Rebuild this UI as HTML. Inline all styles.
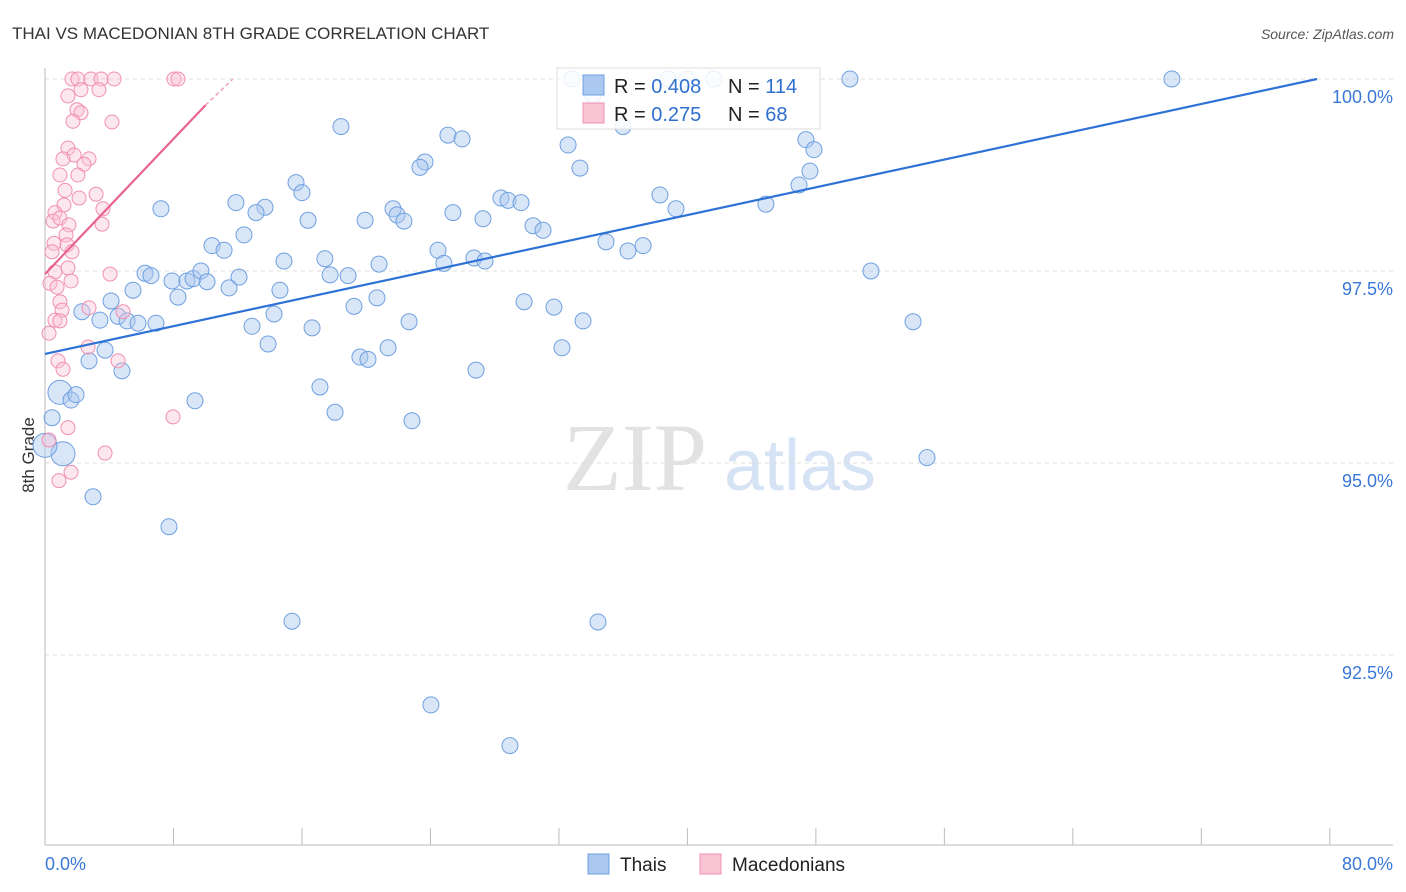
<!DOCTYPE html>
<html><head><meta charset="utf-8">
<style>
body{margin:0;background:#fff;font-family:"Liberation Sans",sans-serif;}
svg{display:block}
</style></head>
<body>
<svg id="chart" width="1406" height="892">
<text x="12" y="39" font-size="17" fill="#333">THAI VS MACEDONIAN 8TH GRADE CORRELATION CHART</text>
<text x="1394" y="39" font-size="14" fill="#555" font-style="italic" text-anchor="end">Source: ZipAtlas.com</text>
<text x="34" y="455" font-size="17" fill="#333" transform="rotate(-90 34 455)" text-anchor="middle">8th Grade</text>
<g>
<text x="635" y="490" font-size="96" fill="#e2e2e2" font-family="Liberation Serif,serif" text-anchor="middle">ZIP</text>
<text x="800" y="490" font-size="72" fill="#d6e3f5" text-anchor="middle">atlas</text>
</g>
<g id="grid"></g>
<g id="axes"></g>
<g id="pts"></g>
<g id="lines"></g>
<g>
<rect x="557" y="68" width="263" height="61" fill="#fff" fill-opacity="0.85" stroke="#ddd"/>
<rect x="583" y="75" width="21" height="20" fill="#aac8f0" stroke="#6fa0e0"/>
<rect x="583" y="103" width="21" height="20" fill="#f9c4d4" stroke="#f090b0"/>
<text x="614" y="93" font-size="20" fill="#222">R = <tspan fill="#2f6fd0">0.408</tspan></text>
<text x="728" y="93" font-size="20" fill="#222">N = <tspan fill="#2f6fd0">114</tspan></text>
<text x="614" y="121" font-size="20" fill="#222">R =  <tspan fill="#2f6fd0">0.275</tspan></text>
<text x="728" y="121" font-size="20" fill="#222">N =  <tspan fill="#2f6fd0">68</tspan></text>
</g>
<g>
<rect x="588" y="854" width="21" height="20" fill="#aac8f0" stroke="#6fa0e0"/>
<text x="620" y="871" font-size="19" fill="#222">Thais</text>
<rect x="700" y="854" width="21" height="20" fill="#f9c4d4" stroke="#f090b0"/>
<text x="732" y="871" font-size="19" fill="#222">Macedonians</text>
</g>
</svg>
<script>
const blueX=[32.81,38.79,39.98,41.66,50.12,70.17,34.12,18.43,25.09,25.97,35.99,32.57,47.38,47.88,23.66,23.35,33.31,47.63,46.95,15.63,16.00,38.29,11.89,13.70,7.22,13.14,39.29,44.89,28.39,28.83,29.64,21.67,21.92,22.35,25.40,27.27,19.93,16.38,30.39,31.01,12.39,34.93,36.30,37.24,10.40,11.15,24.47,24.84,26.71,27.40,14.88,17.43,20.80,51.43,6.23,6.60,7.91,8.84,9.22,9.71,10.09,12.08,17.75,18.87,5.48,11.46,14.63,4.11,8.28,19.24,20.67,29.83,31.69,2.30,4.55,3.42,5.11,5.79,6.91,14.26,12.89,16.63,22.67,33.50,54.05,13.89,3.74,19.61,20.11,21.36,32.19,2.74,4.79,26.84,17.12,0.93,1.62,1.93,9.34,18.06,22.85,0.44,1.12,0.00,54.92,2.99,7.72,15.38,34.43,24.03,28.95];
const blueY=[100,100,100,100,100,100,99.79,99.38,99.27,99.22,99.38,99.14,99.21,99.08,98.92,98.85,98.84,98.80,98.62,98.65,98.52,98.49,98.39,98.33,98.31,98.26,98.31,98.37,98.45,98.42,98.39,98.31,98.23,98.15,98.26,98.18,98.16,98.16,98.09,98.03,97.97,97.88,97.76,97.83,97.83,97.77,97.77,97.60,97.67,97.63,97.63,97.66,97.59,97.50,97.47,97.44,97.37,97.37,97.40,97.50,97.36,97.42,97.45,97.44,97.25,97.28,97.25,97.11,97.16,97.04,97.15,97.10,97.03,96.97,96.91,96.86,96.85,96.82,96.82,96.94,96.78,96.76,96.84,96.85,96.84,96.55,96.47,96.38,96.35,96.50,96.50,96.33,96.20,96.21,95.99,95.92,95.82,95.89,95.81,95.66,95.55,95.59,95.12,95.23,95.07,94.56,94.17,92.94,92.93,91.85,91.32];
const blueBig=[0.93,1.12,0.00];
const pinkX=[1.68,2.05,2.86,3.49,4.30,8.03,8.28,1.43,2.24,3.36,1.99,2.24,1.74,4.17,1.43,1.81,1.12,2.74,2.43,0.93,2.05,1.25,3.18,2.12,1.18,3.61,0.62,0.50,0.93,1.49,3.55,1.31,0.56,1.37,1.68,0.44,4.05,1.43,0.62,1.62,0.31,0.75,0.93,2.74,1.06,4.86,0.62,0.93,0.25,2.68,0.81,1.12,4.55,7.97,1.43,3.74,1.62,0.87,0.25];
const pinkY=[100,100,100,100,100,100,100,99.78,99.86,99.86,99.60,99.56,99.45,99.44,99.10,99.01,98.96,98.96,98.89,98.75,98.75,98.55,98.50,98.45,98.36,98.31,98.26,98.15,98.19,98.10,98.11,97.97,97.86,97.84,97.75,97.75,97.46,97.54,97.49,97.37,97.34,97.29,97.10,97.02,96.99,96.97,96.86,96.85,96.69,96.51,96.33,96.22,96.33,95.60,95.46,95.13,94.88,94.77,95.30];
const blueTrend=[[0,96.42],[79.2,100]];
const pinkTrend=[[0,97.46],[10,99.66]];
const pinkTrendExt=[[10,99.66],[11.7,100]];
const yTicks=[100,97.5,95,92.5];
const yTickLabels=["100.0%","97.5%","95.0%","92.5%"];
const xTicks=[0,8,16,24,32,40,48,56,64,72,80];

const NS="http://www.w3.org/2000/svg";
const sx=v=>45+v*16.06;
const sy=v=>79+(100-v)*76.8;
function mk(tag,attrs,parent){const e=document.createElementNS(NS,tag);for(const k in attrs)e.setAttribute(k,attrs[k]);document.getElementById(parent).appendChild(e);return e;}

yTicks.forEach((t,i)=>{
  const l=mk('line',{x1:45,x2:1393,y1:sy(t),y2:sy(t),stroke:'#ddd','stroke-dasharray':'4 4'},'grid');
  
  
  const tx=mk('text',{x:1393,y:sy(t)+24,'font-size':18,fill:'#3a78d8','text-anchor':'end'},'grid');
  tx.textContent=yTickLabels[i];
  
  
});
const ax=mk('line',{x1:45,x2:1393,y1:845,y2:845,stroke:'#bbb'},'axes');


const ay=mk('line',{x1:45,x2:45,y1:68,y2:845,stroke:'#bbb'},'axes');


xTicks.forEach(t=>{
  const l=mk('line',{x1:sx(t),x2:sx(t),y1:828,y2:845,stroke:'#bbb'},'axes');
  
  
});
const xl0=mk('text',{x:45,y:870,'font-size':18,fill:'#3a78d8'},'axes');
xl0.textContent=xTicks[0].toFixed(1)+"%";


const xl1=mk('text',{x:1393,y:870,'font-size':18,fill:'#3a78d8','text-anchor':'end'},'axes');
xl1.textContent=xTicks[xTicks.length-1].toFixed(1)+"%";



blueX.forEach((x,i)=>{
  const big=blueBig.includes(x)&&blueY[i]<96;
  const c=mk('circle',{cx:sx(x),cy:sy(blueY[i]),r:big?12:8,fill:'#aac8f0','fill-opacity':0.45,stroke:'#6fa0e0','stroke-width':1},'pts');
  
  
});
pinkX.forEach((x,i)=>{
  const c=mk('circle',{cx:sx(x),cy:sy(pinkY[i]),r:7,fill:'#f9c4d4','fill-opacity':0.4,stroke:'#f090b0','stroke-width':1},'pts');
  
  
});
const bl=mk('line',{x1:sx(blueTrend[0][0]),y1:sy(blueTrend[0][1]),x2:sx(blueTrend[1][0]),y2:sy(blueTrend[1][1]),stroke:'#2f72d6','stroke-width':2.2},'lines');


const pl=mk('line',{x1:sx(pinkTrend[0][0]),y1:sy(pinkTrend[0][1]),x2:sx(pinkTrend[1][0]),y2:sy(pinkTrend[1][1]),stroke:'#e8648c','stroke-width':2.2},'lines');


const pe=mk('line',{x1:sx(pinkTrendExt[0][0]),y1:sy(pinkTrendExt[0][1]),x2:sx(pinkTrendExt[1][0]),y2:sy(pinkTrendExt[1][1]),stroke:'#f0a0b8','stroke-width':1.5,'stroke-dasharray':'4 3'},'lines');


</script>
</body></html>
